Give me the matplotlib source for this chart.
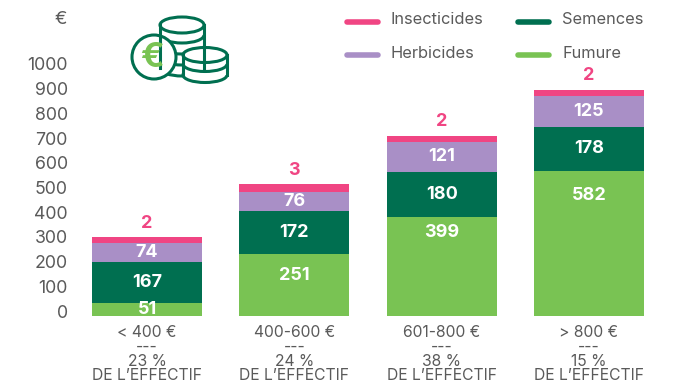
import matplotlib
matplotlib.use("Agg")
import matplotlib.pyplot as plt
from matplotlib.patches import Arc, Ellipse, Circle, Rectangle

plt.rcParams['font.family'] = ['Inter', 'DejaVu Sans']

W, H = 678, 383
GREY = '#5a5a5a'
PINK = '#f04583'
PURPLE = '#a98fc6'
DARK = '#006f50'
GREEN = '#79c353'

categories = ['< 400 €', '400-600 €', '601-800 €', '> 800 €']
shares = ['23 %', '24 %', '38 %', '15 %']
fumure = [51, 251, 399, 582]
semences = [167, 172, 180, 178]
herbicides = [74, 76, 121, 125]
# the printed figure and the height of the pink strip do not agree in the source
insecticides_label = [2, 3, 2, 2]
insecticides_drawn = [24, 30, 24, 24]
yticks = [0, 100, 200, 300, 400, 500, 600, 700, 800, 900, 1000]

# fumure labels hang from the top of the segment, pixels below it
fumure_label_drop = [6, 22, 16, 24]


def px_axes(fig, left, top, right, bottom):
    return fig.add_axes([left / W, 1 - bottom / H, (right - left) / W, (bottom - top) / H])


fig = plt.figure(figsize=(W / 100, H / 100), dpi=100)

# bars
ax = px_axes(fig, 73.4, 67, 662.6, 316)
ax.set_xlim(-0.5, 3.5)
ax.set_ylim(0, 1000)
ax.patch.set_visible(False)
for s in ax.spines.values():
    s.set_visible(False)

x = range(len(categories))
base = [0, 0, 0, 0]
for vals, col in [(fumure, GREEN), (semences, DARK), (herbicides, PURPLE), (insecticides_drawn, PINK)]:
    ax.bar(x, vals, bottom=base, width=0.747, color=col, linewidth=0)
    for i, v in enumerate(vals):
        if vals is fumure:
            ax.annotate(str(v), (i, v), xytext=(0, -fumure_label_drop[i] * 0.72), textcoords='offset points',
                        ha='center', va='center', color='white', fontsize=13, fontweight='bold')
        elif vals is not insecticides_drawn:
            ax.text(i, base[i] + v / 2, str(v), ha='center', va='center', color='white',
                    fontsize=13, fontweight='bold')
    base = [b + v for b, v in zip(base, vals)]
for i, v in enumerate(insecticides_label):
    ax.annotate(str(v), (i, base[i]), xytext=(0, 3.8), textcoords='offset points',
                ha='center', va='bottom', color=PINK, fontsize=13, fontweight='bold')

ax.set_xticks(list(x))
ax.set_xticklabels([c + '\n---\n' + s + "\nDE L’EFFECTIF" for c, s in zip(categories, shares)],
                   fontsize=11.3, color=GREY, linespacing=0.95)
ax.tick_params(axis='x', length=0, pad=6.5)
ax.set_yticks([])

# the value scale sits a little apart from the bars in the source
ay = px_axes(fig, 73.4, 64, 662.6, 311)
ay.set_ylim(0, 1000)
ay.patch.set_visible(False)
ay.set_xticks([])
for s in ay.spines.values():
    s.set_visible(False)
ay.set_yticks(yticks)
ay.set_yticklabels([str(t) for t in yticks], fontsize=12.8, color=GREY)
ay.tick_params(axis='y', length=0, pad=4)

# overlay in pixels for the unit, legend and icon
ov = px_axes(fig, 0, 0, W, H)
ov.set_xlim(0, W)
ov.set_ylim(H, 0)
ov.axis('off')
ov.text(67, 19, '€', ha='right', va='center', fontsize=13.5, color=GREY)

legend = [('Insecticides', PINK, 344, 22, 19), ('Semences', DARK, 515, 22, 19),
          ('Herbicides', PURPLE, 344, 55, 53.5), ('Fumure', GREEN, 515, 55, 53.5)]
for name, col, lx, ly, ty in legend:
    ov.plot([lx + 3, lx + 34], [ly, ly], color=col, lw=4, solid_capstyle='round')
    ov.text(lx + 47, ty, name, va='center', ha='left', fontsize=11.8, color=GREY)


def coins(cx, ys, rx, ry, bottom):
    lw = 2.2
    ov.add_patch(Ellipse((cx, bottom), 2 * rx, 2 * ry, fc='white', ec=DARK, lw=lw))
    ov.add_patch(Rectangle((cx - rx + 1, ys[0]), 2 * rx - 2, bottom - ys[0], fc='white', ec='none'))
    ov.plot([cx - rx, cx - rx], [ys[0], bottom], color=DARK, lw=lw)
    ov.plot([cx + rx, cx + rx], [ys[0], bottom], color=DARK, lw=lw)
    for y in ys[1:]:
        ov.add_patch(Arc((cx, y), 2 * rx, 2 * ry, theta1=0, theta2=180, ec=DARK, lw=lw))
    ov.add_patch(Ellipse((cx, ys[0]), 2 * rx, 2 * ry, fc='white', ec=DARK, lw=lw))


coins(182, [25, 35, 46, 57], 22, 8, 68)
coins(205, [55, 64], 22, 7.5, 75)
ov.add_patch(Circle((154, 57), 22, fc='white', ec=DARK, lw=2.2))
ov.text(152, 58, '€', ha='center', va='center', fontsize=25, color=GREEN, fontweight='bold')

fig.savefig('out.png', dpi=100)
